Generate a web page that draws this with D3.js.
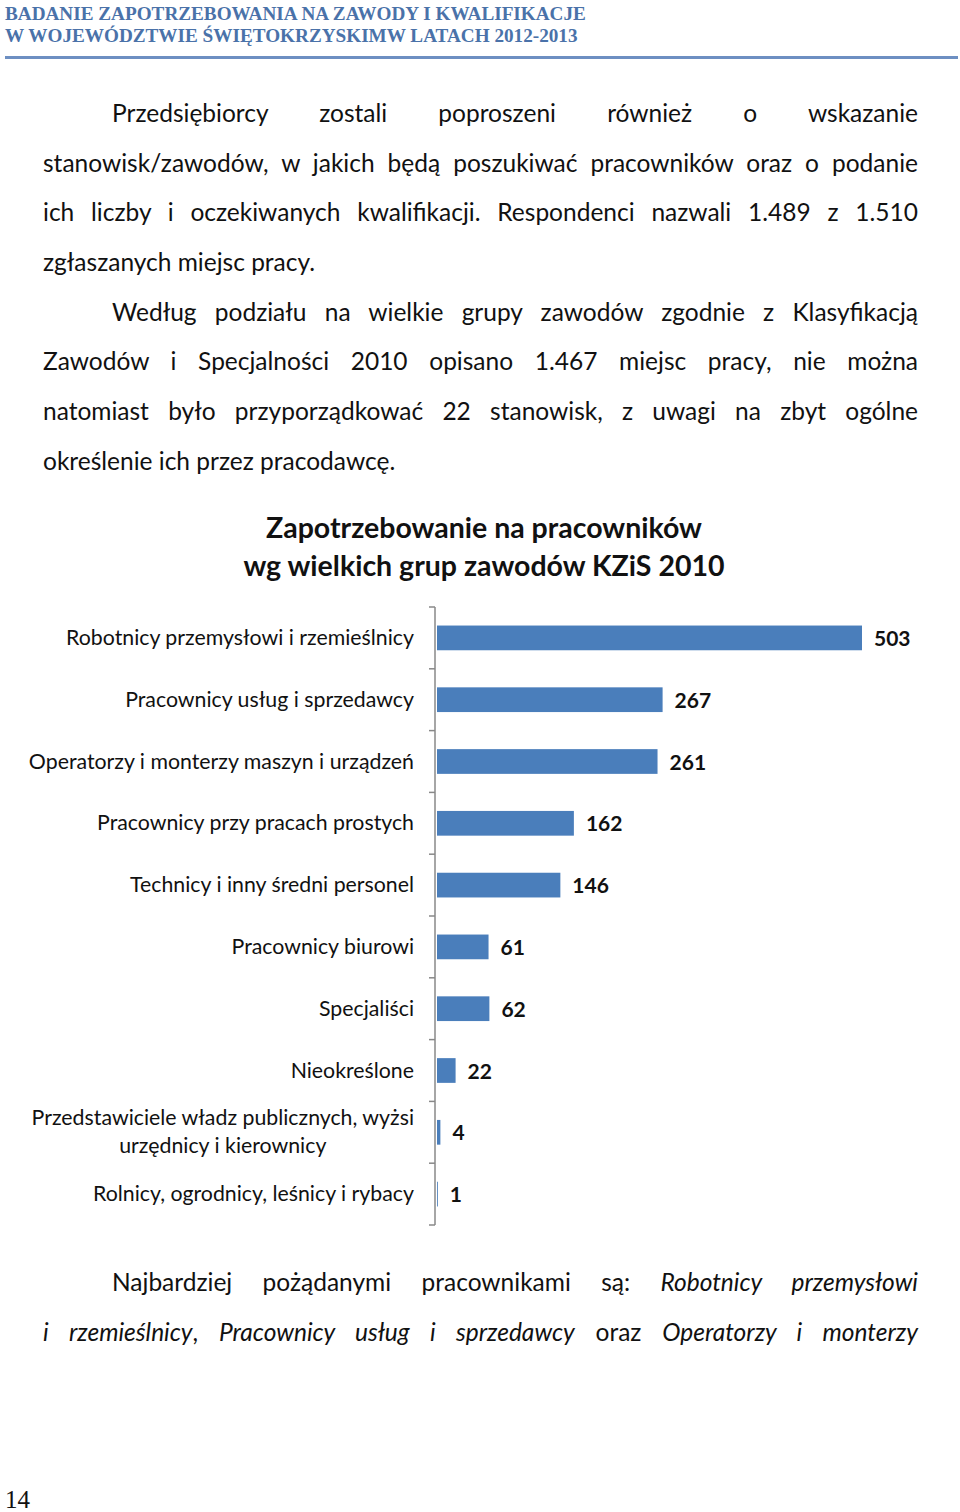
<!DOCTYPE html>
<html><head><meta charset="utf-8">
<script src="https://cdn.jsdelivr.net/npm/d3@7"></script>
<style>
html,body{margin:0;padding:0;background:#fff;}
body{width:960px;height:1512px;position:relative;overflow:hidden;}
.hdr{position:absolute;left:5px;font-family:"Liberation Serif","DejaVu Serif",serif;font-weight:bold;color:#4a72a9;font-size:19.2px;white-space:nowrap;}
.rule{position:absolute;left:5px;top:56px;width:953px;height:3px;background:#6d8fc2;}
.p{position:absolute;left:43px;width:875px;font-family:Lato,"Open Sans",sans-serif;font-size:24.5px;color:#111;white-space:nowrap;}
.ln{position:absolute;height:30px;line-height:30px;}
.j{text-align:justify;text-align-last:justify;}
.pg{position:absolute;left:5px;top:1486px;font-family:"Liberation Serif",serif;font-size:25px;color:#111;}
svg{position:absolute;left:0;top:0;}
</style></head>
<body>
<div class="hdr" style="top:3px">BADANIE ZAPOTRZEBOWANIA NA ZAWODY I KWALIFIKACJE</div>
<div class="hdr" style="top:25px">W WOJEWÓDZTWIE ŚWIĘTOKRZYSKIMW LATACH 2012-2013</div>
<div class="rule"></div>
<div id="txt"></div>
<div class="pg">14</div>
<svg id="chart" width="960" height="1512"></svg>
<script>
const categories = [
  "Robotnicy przemysłowi i rzemieślnicy",
  "Pracownicy usług  i sprzedawcy",
  "Operatorzy i monterzy maszyn i urządzeń",
  "Pracownicy przy pracach prostych",
  "Technicy i inny średni personel",
  "Pracownicy biurowi",
  "Specjaliści",
  "Nieokreślone",
  "Przedstawiciele władz publicznych, wyżsi|urzędnicy i kierownicy",
  "Rolnicy, ogrodnicy, leśnicy i rybacy"
];
const values = [503, 267, 261, 162, 146, 61, 62, 22, 4, 1];
const chartTitle = ["Zapotrzebowanie na pracowników", "wg wielkich grup zawodów KZiS 2010"];

// paragraph lines: [text, indent, justify, y-center]
const lines = [
  ["Przedsiębiorcy zostali poproszeni również o wskazanie", 69, true, 113],
  ["stanowisk/zawodów, w jakich będą poszukiwać pracowników oraz o podanie", 0, true, 163],
  ["ich liczby i oczekiwanych kwalifikacji. Respondenci nazwali 1.489 z 1.510", 0, true, 212],
  ["zgłaszanych miejsc pracy.", 0, false, 262],
  ["Według podziału na wielkie grupy zawodów zgodnie z Klasyfikacją", 69, true, 312],
  ["Zawodów i Specjalności 2010 opisano 1.467 miejsc pracy, nie można", 0, true, 361],
  ["natomiast było przyporządkować 22 stanowisk, z uwagi na zbyt ogólne", 0, true, 411],
  ["określenie ich przez pracodawcę.", 0, false, 461],
  ["Najbardziej pożądanymi pracownikami są: <i>Robotnicy przemysłowi</i>", 69, true, 1282],
  ["<i>i rzemieślnicy</i>, <i>Pracownicy usług i sprzedawcy</i> oraz <i>Operatorzy i monterzy</i>", 0, true, 1332]
];
const txt = d3.select("#txt");
lines.forEach(([t, ind, j, y]) => {
  txt.append("div").attr("class", "p ln" + (j ? " j" : ""))
    .style("left", (43 + ind) + "px").style("width", (875 - ind) + "px")
    .style("top", (y - 15) + "px").html(t);
});

const svg = d3.select("#chart");
const title = svg.append("text").attr("text-anchor", "middle")
  .attr("font-family", "Lato, 'Open Sans', sans-serif").attr("font-weight", "bold")
  .attr("font-size", 28.5).attr("fill", "#111");
chartTitle.forEach((t, i) => title.append("tspan").attr("x", 484).attr("y", 538 + i * 38).text(t));

const x0 = 437;
const x = d3.scaleLinear().domain([0, 503]).range([x0, 862]);
const y = d3.scaleBand().domain(categories).range([607, 1225]).paddingInner(0.6).paddingOuter(0.3);
const yAxisScale = d3.scaleBand().domain(categories).range([607, 1225]);

// axis line and ticks at band boundaries
const axisG = svg.append("g");
axisG.append("line").attr("x1", 435).attr("x2", 435).attr("y1", 607).attr("y2", 1225)
  .attr("stroke", "#888").attr("stroke-width", 1.5);
const bounds = categories.map(c => yAxisScale(c)).concat([1225]);
axisG.selectAll("line.tk").data(bounds).join("line").attr("class", "tk")
  .attr("x1", 429).attr("x2", 435).attr("y1", d => d).attr("y2", d => d)
  .attr("stroke", "#888").attr("stroke-width", 1.5);

svg.selectAll("rect.bar").data(values).join("rect").attr("class", "bar")
  .attr("x", x0).attr("y", (d, i) => y(categories[i]))
  .attr("width", d => x(d) - x0).attr("height", y.bandwidth())
  .attr("fill", "#4a7ebb");

svg.selectAll("text.val").data(values).join("text").attr("class", "val")
  .attr("x", d => x(d) + 12).attr("y", (d, i) => yAxisScale(categories[i]) + yAxisScale.bandwidth() / 2 + 8)
  .attr("font-family", "Lato, 'Open Sans', sans-serif").attr("font-weight", "bold")
  .attr("font-size", 21).attr("fill", "#111").text(d => d);

categories.forEach((c, i) => {
  const parts = c.split("|");
  const cy = yAxisScale(c) + yAxisScale.bandwidth() / 2;
  const t = svg.append("text").attr("font-family", "Lato, 'Open Sans', sans-serif")
    .attr("font-size", 21.3).attr("fill", "#111");
  if (parts.length === 1) {
    t.attr("x", 414).attr("y", cy + 7).attr("text-anchor", "end").text(parts[0]);
  } else {
    const a = t.append("tspan").attr("y", cy - 7).text(parts[0]);
    const w = a.node().getComputedTextLength();
    const cx = 414 - w / 2;
    t.attr("text-anchor", "middle");
    a.attr("x", cx);
    t.append("tspan").attr("x", cx).attr("y", cy + 21).text(parts[1]);
  }
});
</script>
</body></html>
